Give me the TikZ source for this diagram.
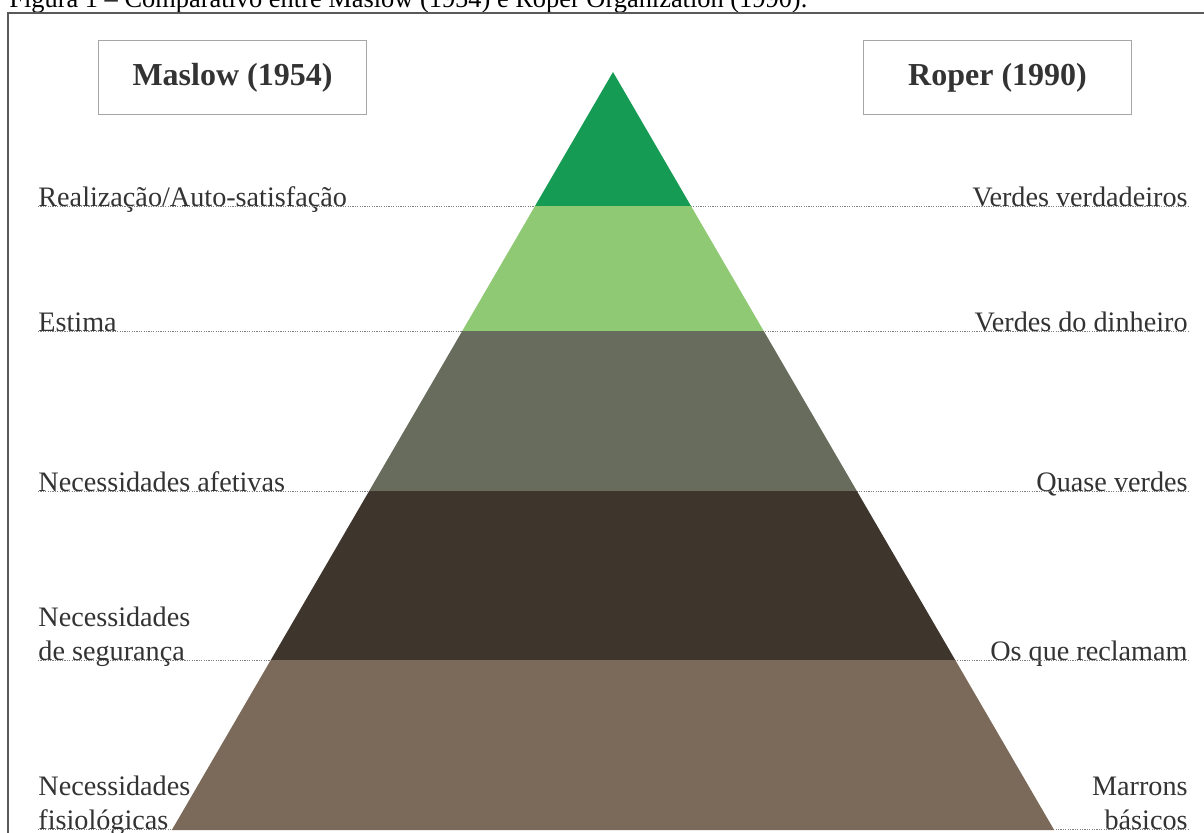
\documentclass[tikz,border=0pt]{standalone}
\usepackage{fontspec}
\setmainfont{Liberation Serif}
\definecolor{bandA}{HTML}{159B53}
\definecolor{bandB}{HTML}{8FC973}
\definecolor{bandC}{HTML}{676C5D}
\definecolor{bandD}{HTML}{3E352D}
\definecolor{bandE}{HTML}{7B695A}
\definecolor{txt}{HTML}{333333}
\tikzset{
  lab/.style={inner sep=0pt,text=txt,font=\fontsize{14.1}{16.65}\selectfont},
  head/.style={draw=gray!70,line width=0.5pt,minimum width=134pt,minimum height=37pt,
    text=txt,font=\fontsize{16}{19}\selectfont\bfseries},
  guide/.style={gray,line width=0.5pt,dash pattern=on 0.6pt off 0.6pt}
}
\begin{document}
\begin{tikzpicture}[x=0.5pt,y=-0.5pt]
  \useasboundingbox (0,0) rectangle (1204,832);
  \clip (0,0) rectangle (1204,832);

  % caption and frame
  \node[anchor=base west,inner sep=0pt,font=\fontsize{13.2}{15}\selectfont] (cap) at (9,7)
    {Figura 1 -- Comparativo entre Maslow (1954) e Roper Organization (1990).};
  \draw[line width=0.8pt,black!65] (8,840) -- (8,12.7) -- (1210,12.7);

  % headers
  \node[head] (maslow) at (232.5,77.5) {Maslow (1954)};
  \node[head] (roper) at (997.5,77.5) {Roper (1990)};

  % left labels
  \node[lab,anchor=base west] (l1) at (38,206) {Realização/Auto-satisfação};
  \node[lab,anchor=base west] (l2) at (38,331) {Estima};
  \node[lab,anchor=base west] (l3) at (38,491) {Necessidades afetivas};
  \node[lab,anchor=base west,align=left] (l4) at (38,660) {Necessidades\\de segurança};
  \node[lab,anchor=base west,align=left] (l5) at (38,829) {Necessidades\\fisiológicas};

  % right labels
  \node[lab,anchor=base east] (r1) at (1188,206) {Verdes verdadeiros};
  \node[lab,anchor=base east] (r2) at (1188,331) {Verdes do dinheiro};
  \node[lab,anchor=base east] (r3) at (1188,491) {Quase verdes};
  \node[lab,anchor=base east] (r4) at (1188,660) {Os que reclamam};
  \node[lab,anchor=base east,align=right] (r5) at (1188,829) {Marrons\\básicos};

  % dotted guides
  \foreach \i in {1,...,5} {
    \draw[guide] (l\i.base west) -- (r\i.base east);
  }

  % pyramid bands
  \foreach \ya/\yb/\col in {72/206/bandA,206/331/bandB,331/491/bandC,491/660/bandD,660/830/bandE} {
    \fill[\col] ({613-0.582*(\ya-72)},\ya) -- ({613+0.582*(\ya-72)},\ya)
      -- ({613+0.582*(\yb-72)},\yb) -- ({613-0.582*(\yb-72)},\yb) -- cycle;
  }
\end{tikzpicture}
\end{document}
